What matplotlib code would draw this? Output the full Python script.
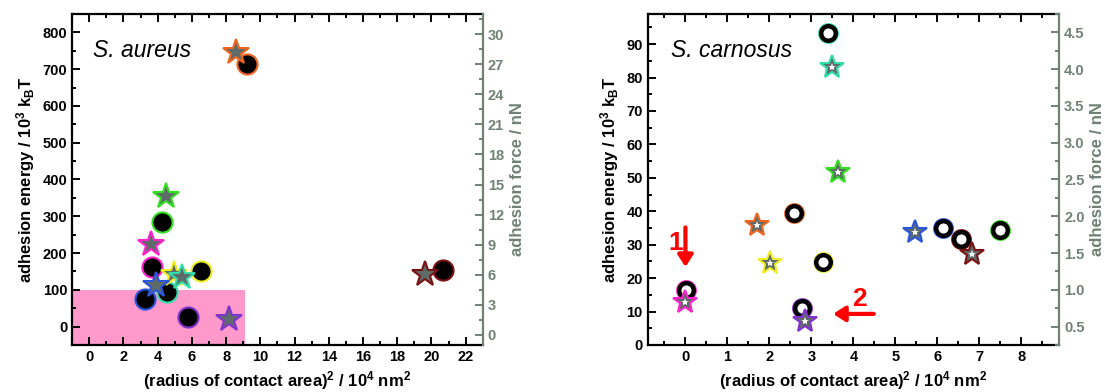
import matplotlib.pyplot as plt
from matplotlib.patches import Rectangle
from matplotlib.ticker import MultipleLocator

plt.rcParams['font.family'] = ['Liberation Sans', 'DejaVu Sans']
plt.rcParams['mathtext.fontset'] = 'custom'
plt.rcParams['mathtext.rm'] = 'Liberation Sans:bold'
plt.rcParams['mathtext.it'] = 'Liberation Sans:bold'
plt.rcParams['mathtext.bf'] = 'Liberation Sans:bold'

# S. aureus: circles = adhesion energy (10^3 kBT), stars = adhesion force (nN)
au_colors = ['#f26522', '#33dd22', '#ff22cc', '#eeee22', '#33ddaa', '#2a55dd', '#8033cc', '#7a1212']
au_circle_x = [9.25, 4.24, 3.69, 6.52, 4.53, 3.26, 5.78, 20.7]
au_energy = [714, 284, 163, 151, 94, 76, 25, 155]
au_star_x = [8.58, 4.51, 3.63, 4.96, 5.45, 3.88, 8.18, 19.6]
au_force = [28.2, 13.9, 9.1, 6.1, 5.8, 5.0, 1.6, 6.1]

# S. carnosus
ca_colors = ['#33ddaa', '#33dd22', '#f26522', '#eeee22', '#ff22cc', '#8033cc', '#2a55dd', '#7a1212', '#33dd22']
ca_circle_x = [3.40, None, 2.59, 3.28, 0.02, 2.78, 6.13, 6.57, 7.48]
ca_energy = [93.2, None, 39.5, 24.7, 16.5, 11.0, 34.9, 31.7, 34.3]
ca_star_x = [3.49, 3.63, 1.70, 2.01, 0.0, 2.84, 5.46, 6.83, None]
ca_force = [4.03, 2.60, 1.88, 1.37, 0.84, 0.57, 1.79, 1.49, None]

star_fill = '#5e6b68'
right_col = '#6f8275'

fig = plt.figure(figsize=(11.05, 3.92), dpi=100)
ax1 = fig.add_axes([0.0652, 0.1199, 0.3717, 0.8444])
ax2 = fig.add_axes([0.5861, 0.1199, 0.3725, 0.8444])


def style_axes(ax, tw):
    for s in ['left', 'bottom', 'top']:
        ax.spines[s].set_linewidth(1.6)
    ax.spines['right'].set_visible(False)
    ax.tick_params(which='both', direction='in', top=True, right=False, width=1.4, labelsize=10.5)
    ax.tick_params(which='major', length=5.5)
    ax.tick_params(which='minor', length=3)
    for lab in ax.get_xticklabels() + ax.get_yticklabels():
        lab.set_fontweight('bold')
    tw.spines['right'].set_color(right_col)
    tw.spines['right'].set_linewidth(1.6)
    for s in ['left', 'bottom', 'top']:
        tw.spines[s].set_visible(False)
    tw.tick_params(which='both', direction='in', colors=right_col, width=1.4, labelsize=10.5)
    tw.tick_params(which='major', length=5.5)
    tw.tick_params(which='minor', length=3)
    for lab in tw.get_yticklabels():
        lab.set_fontweight('bold')
    ax.set_ylabel(r'adhesion energy / 10$^3$ k$_\mathrm{B}$T', fontsize=12, fontweight='bold')
    ax.set_xlabel(r'(radius of contact area)$^2$ / 10$^4$ nm$^2$', fontsize=12, fontweight='bold')
    tw.set_ylabel('adhesion force / nN', fontsize=12, fontweight='bold', color=right_col)


# ---- left panel
tw1 = ax1.twinx()
ax1.add_patch(Rectangle((-1, -50), 10.1, 150, facecolor='#ff99cc', edgecolor='none', zorder=0))
for c, x, y in zip(au_colors, au_circle_x, au_energy):
    ax1.plot(x, y, 'o', ms=14.5, mfc='black', mec=c, mew=1.5, zorder=3)
for c, x, y in zip(au_colors, au_star_x, au_force):
    tw1.plot(x, y, '*', ms=19, mfc=star_fill, mec=c, mew=1.5, zorder=3)
ax1.set_xlim(-1, 23)
ax1.set_ylim(-50, 850)
tw1.set_ylim(-1, 32)
ax1.xaxis.set_major_locator(MultipleLocator(2))
ax1.xaxis.set_minor_locator(MultipleLocator(1))
ax1.yaxis.set_major_locator(MultipleLocator(100))
ax1.yaxis.set_minor_locator(MultipleLocator(50))
tw1.yaxis.set_major_locator(MultipleLocator(3))
tw1.yaxis.set_minor_locator(MultipleLocator(1.5))
style_axes(ax1, tw1)
ax1.text(0.05, 0.89, 'S. aureus', transform=ax1.transAxes, fontsize=16.5, style='italic',
         va='center', ha='left', family='Liberation Sans')

# ---- right panel
tw2 = ax2.twinx()
for c, x, y in zip(ca_colors, ca_circle_x, ca_energy):
    if x is None:
        continue
    ax2.plot(x, y, 'o', ms=15, mfc=c, mec=c, mew=0, zorder=3)
    ax2.plot(x, y, 'o', ms=10.5, mfc='white', mec='black', mew=3.2, zorder=3)
for c, x, y in zip(ca_colors, ca_star_x, ca_force):
    if x is None:
        continue
    tw2.plot(x, y, '*', ms=18, mfc=star_fill, mec=c, mew=1.5, zorder=3)
    tw2.plot(x, y, '*', ms=6, mfc='white', mec='white', mew=0, zorder=4)
ax2.set_xlim(-0.9, 8.9)
ax2.set_ylim(0, 99)
tw2.set_ylim(0.25, 4.75)
ax2.xaxis.set_major_locator(MultipleLocator(1))
ax2.xaxis.set_minor_locator(MultipleLocator(0.5))
ax2.yaxis.set_major_locator(MultipleLocator(10))
ax2.yaxis.set_minor_locator(MultipleLocator(5))
tw2.yaxis.set_major_locator(MultipleLocator(0.5))
tw2.yaxis.set_minor_locator(MultipleLocator(0.25))
tw2.yaxis.set_major_formatter(plt.FormatStrFormatter('%.1f'))
style_axes(ax2, tw2)
ax2.text(0.056, 0.89, 'S. carnosus', transform=ax2.transAxes, fontsize=16.5, style='italic',
         va='center', ha='left', family='Liberation Sans')

# arrows
arrow_style = dict(arrowstyle='-|>,head_width=0.45,head_length=0.7', color='red', lw=3)
ax2.annotate('', xy=(0.0, 22.5), xytext=(0.0, 36), arrowprops=arrow_style, zorder=5)
ax2.text(-0.24, 30.5, '1', color='red', fontsize=19, fontweight='bold', ha='center', va='center')
ax2.annotate('', xy=(3.45, 9.3), xytext=(4.55, 9.3), arrowprops=arrow_style, zorder=5)
ax2.text(4.15, 13.8, '2', color='red', fontsize=19, fontweight='bold', ha='center', va='center')

fig.savefig('out.png', dpi=100)
